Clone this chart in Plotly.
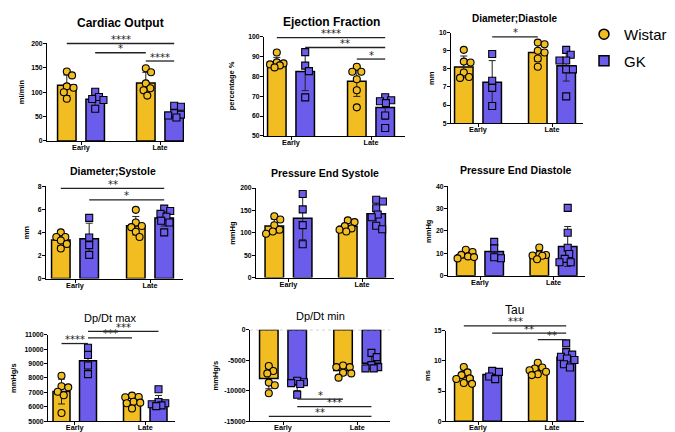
import numpy as np
import plotly.graph_objects as go

W, H = 675, 432

groups = ["Early", "Late"]
strains = ["Wistar", "GK"]

# ---- data (each list: [Early values, Late values]) ----
co_wistar = [[142.6, 134.5, 112, 109, 100, 86.5], [149, 141, 118, 108, 104, 93]]
co_gk = [[101, 90, 86, 84, 66], [72, 70, 57, 54, 52, 48]]

ef_wistar = [[92, 87, 86.5, 86, 85.5, 84.5], [84.8, 82.3, 82.3, 78.5, 73, 64.4]]
ef_gk = [[92.2, 85.4, 82.6, 69.4], [69.5, 68, 67.5, 66.5, 60.3, 54]]

dd_wistar = [[9.05, 8.4, 8.35, 7.8, 7.55, 7.5], [9.45, 9.36, 9.0, 8.9, 8.57, 8.12]]
dd_gk = [[8.82, 7.34, 6.95, 5.95], [9.05, 8.78, 8.46, 8.46, 7.97, 7.97, 6.48]]

ds_wistar = [[4.0, 3.6, 3.6, 3.3, 3.0, 2.6], [5.95, 4.85, 4.55, 4.45, 4.05, 3.6]]
ds_gk = [[5.25, 3.55, 2.9, 2.05], [6.05, 5.85, 5.6, 5.35, 5.0, 4.85, 4.0]]

pes_wistar = [[137, 130, 117, 107, 103, 98], [128, 124, 115, 110, 107, 103]]
pes_gk = [[186.8, 152.4, 117.2, 74.7], [174, 170, 155, 141, 135, 116, 108]]

ped_wistar = [[11.6, 10.6, 9.3, 8.6, 8.3, 7.7], [12.6, 9.5, 9.2, 9.0, 8.9, 7.3]]
ped_gk = [[15.1, 12.2, 7.8, 8.2], [30.3, 19.2, 12.5, 9.7, 7.5, 6.0, 6.0]]

dpmax_wistar = [[8150, 7430, 7350, 7050, 6800, 5570], [6780, 6680, 6660, 6350, 6290, 6250, 5880]]
dpmax_gk = [[10090, 9590, 8860, 8270], [7220, 6330, 6250, 6180, 6100, 6050]]

dpmin_wistar = [[-5950, -6770, -7150, -8660, -9100, -10400], [-5850, -6120, -6120, -7040, -7150, -7850]]
dpmin_gk = [[-8350, -8600, -8750, -8900, -10650], [-3790, -4490, -5790, -6120, -6330, -6330]]

tau_wistar = [[9.0, 8.1, 7.65, 7.1, 7.0, 6.35, 6.2], [9.7, 8.9, 8.75, 8.45, 8.2, 7.8, 7.65]]
tau_gk = [[8.35, 8.18, 7.42, 6.98], [12.9, 11.45, 11.05, 10.7, 10.4, 10.15, 9.45, 8.9]]

titles = ["Cardiac Output", "Ejection Fraction", "Diameter;Diastole",
          "Diameter;Systole", "Pressure End Systole", "Pressure End Diastole",
          "Dp/Dt max", "Dp/Dt min", "Tau"]
title_bold = [True, True, True, True, True, True, False, False, False]
units = ["ml/min", "percentage %", "mm", "mm", "mmHg", "mmHg", "mmHg/s", "mmHg/s", "ms"]
y_ranges = [(0, 200), (50, 100), (5, 10), (0, 8), (0, 200), (0, 40), (5000, 11000), (-15000, 0), (0, 15)]
y_dtick = [50, 10, 1, 2, 50, 10, 1000, 5000, 5]

# significance comparisons: (bar i, bar j, height in data units, label)
# bar index: 0 Wistar-Early, 1 GK-Early, 2 Wistar-Late, 3 GK-Late
sig_bars = [
    [(0, 3, 200, "****"), (1, 2, 181, "*"), (2, 3, 164, "****")],
    [(0, 3, 99.5, "****"), (1, 3, 94.5, "**"), (2, 3, 88.7, "*")],
    [(1, 2, 9.77, "*")],
    [(0, 3, 7.8, "**"), (1, 3, 6.81, "*")],
    [],
    [],
    [(0, 1, 10386, "****"), (1, 2, 10773, "***"), (1, 3, 11227, "***")],
    [(1, 2, -11370, "*"), (1, 3, -12615, "***"), (0, 3, -14185, "**")],
    [(0, 3, 15.82, "***"), (1, 3, 14.62, "**"), (2, 3, 13.53, "**")],
]

panel_data = [(co_wistar, co_gk), (ef_wistar, ef_gk), (dd_wistar, dd_gk),
              (ds_wistar, ds_gk), (pes_wistar, pes_gk), (ped_wistar, ped_gk),
              (dpmax_wistar, dpmax_gk), (dpmin_wistar, dpmin_gk), (tau_wistar, tau_gk)]

# ---- layout geometry in pixels: y-axis x, x-axis end, early centre, late centre, top y, bottom y
geom = [
    (39, 176, 73, 152, 32, 131),
    (256, 397, 283, 363, 25, 126),
    (443, 575, 470, 544, 21, 113),
    (38, 175, 67, 142, 177, 271),
    (248, 386, 280.5, 354, 179, 270),
    (440, 577, 472, 545.5, 177, 268),
    (40, 167, 66.75, 137.25, 328, 416),
    (242, 382, 275, 349.25, 323, 416),
    (438, 576, 470, 544, 324, 416),
]
title_pos = [(113, 11), (323, 10), (507, 7), (105, 162), (317, 164), (508, 161),
             (102, 311), (312, 309), (507, 303)]
ytitle_x = [13, 223, 424, 18, 225, 421, 6, 208, 419]
title_size = [12, 12, 10, 10.5, 10.5, 10.5, 11, 11, 12]

GOLD = "#F1BD21"
BLUE = "#6B5CEB"
FONT = "Liberation Sans, Arial, sans-serif"
colors = [GOLD, BLUE]
symbols = ["circle", "square"]

MARK_D = 7.0


def swarm(vals, ppu_y, ppu_x, d=MARK_D, maxoff=8.5):
    vals = np.asarray(vals, dtype=float)
    order = np.argsort(-vals)
    cands = [0.0]
    k = 1
    while k * 0.75 <= maxoff:
        cands += [k * 0.75, -k * 0.75]
        k += 1
    placed = []
    offs = np.zeros(len(vals))
    for i in order:
        yv = vals[i] * ppu_y
        best, bestd = 0.0, -1
        for c in cands:
            md = min([np.hypot(c - px, yv - py) for px, py in placed], default=1e9)
            if md >= d * 0.92:
                best = c
                break
            if md > bestd:
                bestd, best = md, c
        offs[i] = best / ppu_x
        placed.append((best, yv))
    return offs


fig = go.Figure()
layout = dict(
    width=W, height=H, margin=dict(l=0, r=0, t=0, b=0),
    paper_bgcolor="white", plot_bgcolor="white",
    barmode="overlay", showlegend=True,
    font=dict(family=FONT, color="black"),
    annotations=[], shapes=[],
)

for p in range(9):
    k = p + 1
    xa = "x" if k == 1 else f"x{k}"
    ya = "y" if k == 1 else f"y{k}"
    xkey = "xaxis" if k == 1 else f"xaxis{k}"
    ykey = "yaxis" if k == 1 else f"yaxis{k}"
    yx, xend, ec, lc, ytop, ybot = geom[p]
    unit = lc - ec
    lo, hi = y_ranges[p]
    ppu_y = (ybot - ytop) / (hi - lo)
    off_px, bw_px = (13.25, 17) if p == 6 else (14.2, 18.5)
    off = off_px / unit
    bw = bw_px / unit
    centers = [0 - off, 0 + off, 1 - off, 1 + off]

    layout[xkey] = dict(
        domain=[yx / W, xend / W], range=[(yx - ec) / unit, 1 + (xend - lc) / unit],
        anchor=ya, tickvals=[0, 1], ticktext=groups, showline=True, linecolor="black",
        linewidth=1.3, ticks="outside", ticklen=3, tickwidth=1, tickcolor="black",
        ticklabelstandoff=-4,
        tickfont=dict(size=7.3, family=FONT, weight="bold"), showgrid=False, zeroline=False,
        fixedrange=True,
    )
    tv = list(np.arange(lo, hi + y_dtick[p] / 2, y_dtick[p]))
    layout[ykey] = dict(
        domain=[1 - ybot / H, 1 - ytop / H], range=[lo, hi], anchor=xa,
        tickvals=tv, ticktext=[str(int(v)) for v in tv], showline=True, linecolor="black",
        linewidth=1.3, ticks="outside", ticklen=3, tickwidth=1, tickcolor="black",
        ticklabelstandoff=-1,
        tickfont=dict(size=6.8, family=FONT, weight="bold"), showgrid=False, zeroline=False,
        fixedrange=True,
    )

    for s in range(2):
        series = panel_data[p][s]
        means = [float(np.mean(v)) for v in series]
        sds = [float(np.std(v, ddof=1)) for v in series]
        xs = [centers[s], centers[2 + s]]
        fig.add_trace(go.Bar(
            x=xs, y=means, width=bw, xaxis=xa, yaxis=ya, showlegend=False,
            marker=dict(color=colors[s], line=dict(color="black", width=1.5)),
            error_y=dict(type="data", array=sds, visible=True, color="#222222",
                         thickness=1, width=3.5),
            hoverinfo="skip",
        ))
    for s in range(2):
        series = panel_data[p][s]
        px_, py_ = [], []
        for gi in range(2):
            offs = swarm(series[gi], ppu_y, unit)
            base = centers[gi * 2 + s]
            px_ += list(base + offs)
            py_ += list(series[gi])
        fig.add_trace(go.Scatter(
            x=px_, y=py_, xaxis=xa, yaxis=ya, mode="markers", showlegend=False,
            cliponaxis=False,
            marker=dict(symbol=symbols[s], size=MARK_D, color=colors[s],
                        line=dict(color="black", width=1.1)),
            hoverinfo="skip",
        ))

    # zero reference line for negative panel
    if lo < 0 <= hi:
        layout["shapes"].append(dict(type="line", xref=f"{xa} domain", yref=ya,
                                     x0=0, x1=1, y0=0, y1=0,
                                     line=dict(color="#999999", width=1.2, dash="dot")))

    # significance bars
    for (i, j, h, lab) in sig_bars[p]:
        frac = (h - lo) / (hi - lo)
        layout["shapes"].append(dict(type="line", xref=xa, yref=f"{ya} domain",
                                     x0=centers[i], x1=centers[j], y0=frac, y1=frac,
                                     line=dict(color="#222222", width=1.3)))
        layout["annotations"].append(dict(
            xref=xa, yref=f"{ya} domain", x=(centers[i] + centers[j]) / 2, y=frac,
            text=lab, showarrow=False, yanchor="bottom", yshift=-2.5, borderpad=0,
            font=dict(size=10, family="DejaVu Sans, sans-serif", color="#222222")))

    # panel title
    tx, ty = title_pos[p]
    layout["annotations"].append(dict(
        xref="paper", yref="paper", x=tx / W, y=1 - ty / H, text=titles[p],
        showarrow=False, xanchor="center", yanchor="middle",
        font=dict(size=title_size[p], family=FONT, color="black",
                  weight="bold" if title_bold[p] else "normal")))
    # y-axis title
    layout["annotations"].append(dict(
        xref="paper", yref="paper", x=ytitle_x[p] / W, y=1 - (ytop + ybot) / 2 / H,
        text=units[p], textangle=-90, showarrow=False, xanchor="center", yanchor="middle",
        font=dict(size=7.5, family=FONT, color="black", weight="bold")))

# legend entries
for s in range(2):
    fig.add_trace(go.Scatter(
        x=[None], y=[None], mode="markers", name=strains[s], legendgroup=strains[s],
        marker=dict(symbol=symbols[s], size=10, color=colors[s],
                    line=dict(color="black", width=1.5)),
    ))

layout["legend"] = dict(x=576 / W, y=1 - 6 / H, xanchor="left", yanchor="top",
                        font=dict(size=15, family=FONT, color="black"),
                        bgcolor="rgba(0,0,0,0)", tracegroupgap=4, itemwidth=30)

fig.update_layout(**layout)
fig.write_html("out.html")
